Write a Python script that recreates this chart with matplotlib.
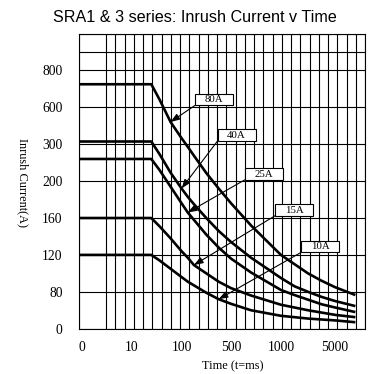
import numpy as np
import matplotlib
matplotlib.use("Agg")
import matplotlib.pyplot as plt
from matplotlib.patches import Rectangle

# time (ms) and inrush current (A) for each rating
times = [45, 60, 80, 100, 150, 200, 300, 400, 500, 700, 1000, 2000, 3000, 4000, 5000, 6500]
i_80a = [725, 642, 481, 349, 293, 269, 222, 192, 176, 152, 120, 110, 100, 92, 85, 73]
i_40a = [322, 273, 223, 192, 183, 175, 160, 146, 134, 117, 95, 86, 80, 69, 60, 49]
i_25a = [260, 230, 194, 176, 166, 158, 142, 128, 116, 101, 82, 73, 63, 53, 46, 36]
i_15a = [160, 151, 138, 124, 117, 109, 100, 91, 84, 72, 52, 46, 40, 35, 30, 25]
i_10a = [120, 114, 105, 96, 91, 87, 78, 64, 54, 40, 28, 25, 22, 20, 18, 14]

ratings = ["80A", "40A", "25A", "15A", "10A"]
x_ticks = [0, 10, 100, 500, 1000, 5000]
y_ticks = [0, 80, 120, 160, 200, 300, 600, 800]


def piecewise(vals, pos):
    vals = np.asarray(vals, float)
    pos = np.asarray(pos, float)

    def conv(v, a, b):
        v = np.asarray(v, float)
        out = np.interp(v, a, b)
        lo = (b[1] - b[0]) / (a[1] - a[0])
        hi = (b[-1] - b[-2]) / (a[-1] - a[-2])
        out = np.where(v < a[0], b[0] + (v - a[0]) * lo, out)
        out = np.where(v > a[-1], b[-1] + (v - a[-1]) * hi, out)
        return out

    return (lambda v: conv(v, vals, pos)), (lambda p: conv(p, pos, vals))


# the printed axes are not linear: ticks sit on a hand-drawn grid
xf, xi = piecewise(x_ticks, [0.38, 5.79, 11.15, 16.5, 21.9, 27.76])
yf, yi = piecewise(y_ticks, np.arange(len(y_ticks)))

fig = plt.figure(figsize=(3.76, 3.74), dpi=100)
ax = fig.add_axes([0.2088, 0.1211, 0.7620, 0.7893])
ax.set_xscale("function", functions=(xf, xi))
ax.set_yscale("function", functions=(yf, yi))
ax.set_xlim(float(xi(0)), float(xi(31)))
ax.set_ylim(float(yi(0)), float(yi(8)))

for k in [0] + list(range(3, 32)):
    ax.axvline(float(xi(k)), color="black", lw=0.8, zorder=1)
for k in list(range(0, 8)) + [7.5, 8]:
    ax.axhline(float(yi(k)), color="black", lw=0.8, zorder=1)

serif = "Liberation Serif"
curves = [i_80a, i_40a, i_25a, i_15a, i_10a]
for cur in curves:
    t = [xi(0)] + times
    c = [cur[0]] + cur
    ax.plot(t, c, color="black", lw=1.9, zorder=3, solid_capstyle="butt")

# label boxes (axes fraction) and which sample the arrow points to
boxes = [(0.473, 0.776), (0.552, 0.656), (0.647, 0.524), (0.752, 0.402), (0.843, 0.278)]
tips = [2, 3, 4, 5, 7]
bw, bh = 0.1326, 0.039
for name, (cx, cy), idx, cur in zip(ratings, boxes, tips, curves):
    ax.add_patch(Rectangle((cx - bw / 2, cy - bh / 2), bw, bh, transform=ax.transAxes,
                           facecolor="white", edgecolor="black", lw=0.8, zorder=4))
    ax.text(cx, cy, name, transform=ax.transAxes, ha="center", va="center",
            family=serif, fontsize=7.8, zorder=5)
    ax.annotate("", xy=(times[idx], cur[idx]), xycoords="data",
                xytext=(cx - bw / 2, cy - bh / 2), textcoords="axes fraction",
                arrowprops=dict(arrowstyle="-|>,head_length=0.55,head_width=0.2",
                                color="black", lw=0.8, shrinkA=0, shrinkB=0,
                                mutation_scale=10),
                zorder=4)

ax.set_xticks(x_ticks)
ax.set_xticklabels([str(v) for v in x_ticks])
ax.set_yticks(y_ticks)
ax.set_yticklabels([str(v) for v in y_ticks])
ax.xaxis.set_minor_locator(matplotlib.ticker.NullLocator())
ax.yaxis.set_minor_locator(matplotlib.ticker.NullLocator())
ax.tick_params(length=0, labelsize=9.8)
ax.tick_params(axis="y", pad=11.5)
ax.tick_params(axis="x", pad=9)
for lab in ax.get_xticklabels() + ax.get_yticklabels():
    lab.set_family(serif)
for s in ax.spines.values():
    s.set_linewidth(0.8)

fig.text(0.5186, 0.952, "SRA1 & 3 series: Inrush Current v Time", ha="center", va="center",
         family="Liberation Sans", fontsize=11.6)
fig.text(233 / 376, 1 - 366 / 374, "Time (t=ms)", ha="center", va="center",
         family=serif, fontsize=8.8)
fig.text(22.5 / 376, 1 - 183 / 374, "Inrush Current(A)", ha="center", va="center",
         rotation=-90, family=serif, fontsize=8.8)

fig.savefig("out.png", dpi=100)
